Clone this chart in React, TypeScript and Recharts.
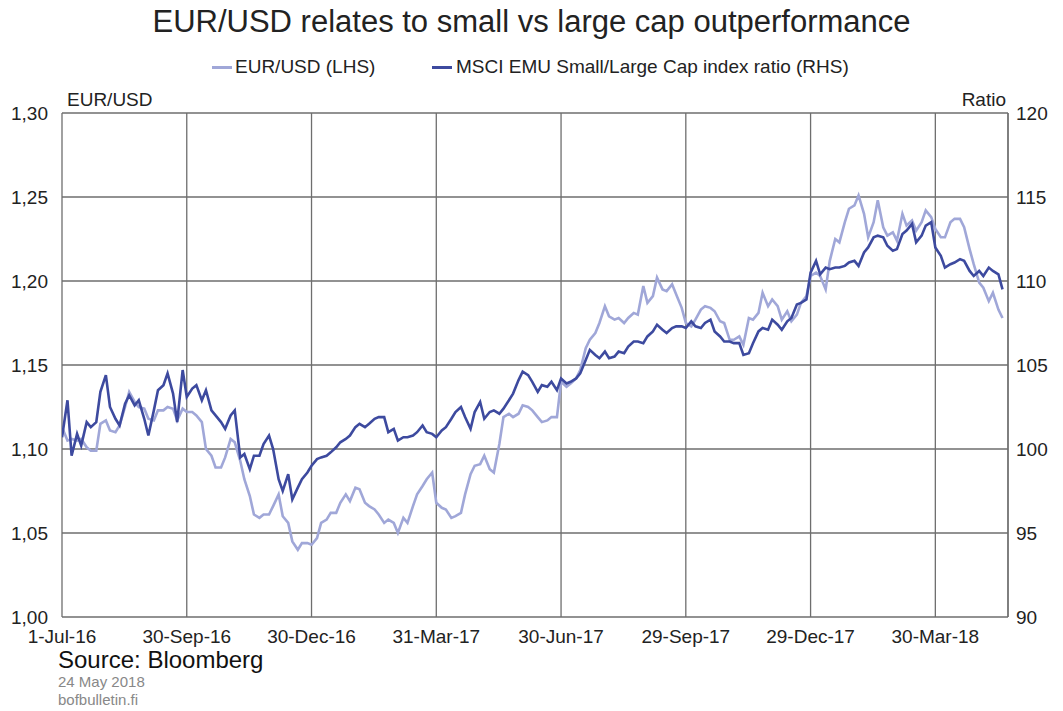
import { LineChart, Line, XAxis, YAxis, CartesianGrid, ReferenceLine } from "recharts";

const DATES = [
  "2016-07-01", "2016-07-05", "2016-07-08", "2016-07-12", "2016-07-15", "2016-07-19", "2016-07-22", "2016-07-26", "2016-07-29",
  "2016-08-02", "2016-08-05", "2016-08-09", "2016-08-12", "2016-08-16", "2016-08-19", "2016-08-23", "2016-08-26", "2016-08-30",
  "2016-09-02", "2016-09-06", "2016-09-09", "2016-09-13", "2016-09-16", "2016-09-20", "2016-09-23", "2016-09-27", "2016-09-30",
  "2016-10-04", "2016-10-07", "2016-10-11", "2016-10-14", "2016-10-18", "2016-10-21", "2016-10-25", "2016-10-28",
  "2016-11-01", "2016-11-04", "2016-11-08", "2016-11-11", "2016-11-15", "2016-11-18", "2016-11-22", "2016-11-25", "2016-11-29",
  "2016-12-02", "2016-12-06", "2016-12-09", "2016-12-13", "2016-12-16", "2016-12-20", "2016-12-23", "2016-12-27", "2016-12-30",
  "2017-01-03", "2017-01-06", "2017-01-10", "2017-01-13", "2017-01-17", "2017-01-20", "2017-01-24", "2017-01-27", "2017-01-31",
  "2017-02-03", "2017-02-07", "2017-02-10", "2017-02-14", "2017-02-17", "2017-02-21", "2017-02-24", "2017-02-28",
  "2017-03-03", "2017-03-07", "2017-03-10", "2017-03-14", "2017-03-17", "2017-03-21", "2017-03-24", "2017-03-28", "2017-03-31",
  "2017-04-04", "2017-04-07", "2017-04-11", "2017-04-14", "2017-04-18", "2017-04-21", "2017-04-25", "2017-04-28",
  "2017-05-02", "2017-05-05", "2017-05-09", "2017-05-12", "2017-05-16", "2017-05-19", "2017-05-23", "2017-05-26", "2017-05-30",
  "2017-06-02", "2017-06-06", "2017-06-09", "2017-06-13", "2017-06-16", "2017-06-20", "2017-06-23", "2017-06-27", "2017-06-30",
  "2017-07-04", "2017-07-07", "2017-07-11", "2017-07-14", "2017-07-18", "2017-07-21", "2017-07-25", "2017-07-28",
  "2017-08-01", "2017-08-04", "2017-08-08", "2017-08-11", "2017-08-15", "2017-08-18", "2017-08-22", "2017-08-25", "2017-08-29",
  "2017-09-01", "2017-09-05", "2017-09-08", "2017-09-12", "2017-09-15", "2017-09-19", "2017-09-22", "2017-09-26", "2017-09-29",
  "2017-10-03", "2017-10-06", "2017-10-10", "2017-10-13", "2017-10-17", "2017-10-20", "2017-10-24", "2017-10-27", "2017-10-31",
  "2017-11-03", "2017-11-07", "2017-11-10", "2017-11-14", "2017-11-17", "2017-11-21", "2017-11-24", "2017-11-28",
  "2017-12-01", "2017-12-05", "2017-12-08", "2017-12-12", "2017-12-15", "2017-12-19", "2017-12-22", "2017-12-26", "2017-12-29",
  "2018-01-02", "2018-01-05", "2018-01-09", "2018-01-12", "2018-01-16", "2018-01-19", "2018-01-23", "2018-01-26", "2018-01-30",
  "2018-02-02", "2018-02-06", "2018-02-09", "2018-02-13", "2018-02-16", "2018-02-20", "2018-02-23", "2018-02-27",
  "2018-03-02", "2018-03-06", "2018-03-09", "2018-03-13", "2018-03-16", "2018-03-20", "2018-03-23", "2018-03-27", "2018-03-30",
  "2018-04-03", "2018-04-06", "2018-04-10", "2018-04-13", "2018-04-17", "2018-04-20", "2018-04-24", "2018-04-27",
  "2018-05-01", "2018-05-04", "2018-05-08", "2018-05-11", "2018-05-15", "2018-05-18",
];

const EURUSD = [
  1.113, 1.105, 1.106, 1.105, 1.106, 1.101, 1.099, 1.099, 1.115, 1.117,
  1.111, 1.110, 1.114, 1.125, 1.134, 1.128, 1.125, 1.124, 1.118, 1.117,
  1.123, 1.123, 1.125, 1.124, 1.117, 1.124, 1.122, 1.122, 1.120, 1.116,
  1.100, 1.096, 1.089, 1.089, 1.095, 1.106, 1.104, 1.093, 1.082, 1.072,
  1.061, 1.059, 1.061, 1.061, 1.066, 1.073, 1.060, 1.056, 1.045, 1.040,
  1.044, 1.044, 1.043, 1.047, 1.056, 1.058, 1.062, 1.062, 1.068, 1.073,
  1.069, 1.077, 1.076, 1.068, 1.066, 1.064, 1.061, 1.056, 1.058, 1.056,
  1.050, 1.059, 1.056, 1.066, 1.073, 1.078, 1.082, 1.086, 1.068, 1.065,
  1.064, 1.059, 1.060, 1.062, 1.073, 1.085, 1.090, 1.091, 1.096, 1.088,
  1.086, 1.103, 1.119, 1.121, 1.119, 1.121, 1.126, 1.125, 1.123, 1.119,
  1.116, 1.117, 1.119, 1.119, 1.140, 1.137, 1.139, 1.142, 1.147, 1.160,
  1.165, 1.169, 1.175, 1.185, 1.179, 1.177, 1.178, 1.175, 1.178, 1.181,
  1.180, 1.197, 1.187, 1.191, 1.202, 1.195, 1.194, 1.198, 1.192, 1.184,
  1.175, 1.173, 1.177, 1.183, 1.185, 1.184, 1.182, 1.176, 1.175, 1.165,
  1.165, 1.167, 1.162, 1.178, 1.177, 1.181, 1.193, 1.185, 1.189, 1.185,
  1.177, 1.182, 1.176, 1.180, 1.187, 1.191, 1.203, 1.205, 1.203, 1.195,
  1.212, 1.225, 1.223, 1.235, 1.243, 1.245, 1.251, 1.240, 1.226, 1.235,
  1.248, 1.232, 1.227, 1.229, 1.224, 1.240, 1.233, 1.236, 1.230, 1.235,
  1.242, 1.238, 1.231, 1.226, 1.226, 1.235, 1.237, 1.237, 1.232, 1.219,
  1.210, 1.199, 1.196, 1.188, 1.193, 1.183, 1.178,
];

const SMALL_LARGE = [
  100.7, 102.9, 99.6, 100.9, 100.2, 101.6, 101.3, 101.6, 103.4, 104.4,
  102.5, 101.8, 101.4, 102.7, 103.2, 102.6, 102.9, 101.8, 100.8, 102.3,
  103.5, 103.8, 104.5, 103.3, 101.6, 104.7, 103.1, 103.6, 103.8, 102.9,
  103.5, 102.3, 102.0, 101.6, 101.2, 102.0, 102.3, 99.5, 99.7, 98.8,
  99.6, 99.6, 100.3, 100.8, 100.0, 98.2, 97.5, 98.5, 97.0, 97.7,
  98.2, 98.6, 99.0, 99.4, 99.5, 99.6, 99.8, 100.1, 100.4, 100.6,
  100.8, 101.3, 101.5, 101.3, 101.5, 101.8, 101.9, 101.9, 101.0, 101.2,
  100.5, 100.7, 100.7, 100.8, 101.0, 101.4, 101.0, 100.9, 100.7, 101.1,
  101.3, 101.8, 102.2, 102.5, 101.9, 101.2, 102.2, 102.8, 101.8, 102.2,
  102.3, 102.1, 102.4, 102.9, 103.3, 104.1, 104.6, 104.4, 104.0, 103.4,
  103.8, 103.7, 104.0, 103.5, 104.2, 103.9, 104.0, 104.2, 104.5, 105.3,
  105.9, 105.6, 105.4, 105.8, 105.4, 105.5, 105.8, 105.7, 106.1, 106.4,
  106.4, 106.3, 106.7, 107.0, 107.4, 107.1, 106.9, 107.2, 107.3, 107.3,
  107.2, 107.6, 107.3, 107.2, 107.5, 107.7, 107.0, 106.7, 106.4, 106.4,
  106.3, 106.3, 105.6, 105.7, 106.3, 107.0, 107.2, 107.1, 107.7, 107.4,
  107.1, 107.6, 107.8, 108.6, 108.7, 108.9, 110.5, 111.2, 110.4, 110.8,
  110.7, 110.8, 110.8, 110.9, 111.1, 111.2, 110.9, 111.7, 112.0, 112.6,
  112.7, 112.6, 112.1, 111.8, 111.9, 112.8, 113.0, 113.4, 112.3, 112.7,
  113.3, 113.5, 112.0, 111.5, 110.8, 111.0, 111.1, 111.3, 111.2, 110.6,
  110.3, 110.6, 110.3, 110.8, 110.6, 110.4, 109.5,
];

const TICK_DATES = ["2016-07-01", "2016-09-30", "2016-12-30", "2017-03-31", "2017-06-30", "2017-09-29", "2017-12-29", "2018-03-30"];
const TICK_LABELS = ["1-Jul-16", "30-Sep-16", "30-Dec-16", "31-Mar-17", "30-Jun-17", "29-Sep-17", "29-Dec-17", "30-Mar-18"];
const LEFT_TICKS = [1.0, 1.05, 1.1, 1.15, 1.2, 1.25, 1.3];
const RIGHT_TICKS = [90, 95, 100, 105, 110, 115, 120];
const AXIS_START = "2016-07-01";
const AXIS_END = "2018-05-22";

const FONT = '"Liberation Sans", Arial, sans-serif';
const LIGHT = "#a0a7d8";
const DARK = "#3d4a9f";
const GRID = "#6e6e6e";

const ts = (d: string) => new Date(d + "T00:00:00Z").getTime();
const tickTs = TICK_DATES.map(ts);
const data = DATES.map((d, i) => ({ t: ts(d), eur: EURUSD[i], ratio: SMALL_LARGE[i] }));

const tickStyle = { fill: "#222", fontSize: 19, fontFamily: FONT };

export default function App() {
  return (
    <div style={{ position: "absolute", left: 0, top: 0, width: 1063, height: 711, background: "#fff", fontFamily: FONT, color: "#222" }}>
      <div style={{ position: "absolute", top: 6, left: 0, width: 1063, textAlign: "center", fontSize: 31, lineHeight: "31px" }}>
        EUR/USD relates to small vs large cap outperformance
      </div>

      <div style={{ position: "absolute", top: 57, left: 0, width: 1063, height: 20, fontSize: 19, lineHeight: "19px" }}>
        <span style={{ position: "absolute", left: 212, top: 9, width: 20, height: 3, background: LIGHT }} />
        <span style={{ position: "absolute", left: 235, top: 0, whiteSpace: "nowrap" }}>EUR/USD (LHS)</span>
        <span style={{ position: "absolute", left: 432, top: 9, width: 20, height: 3, background: DARK }} />
        <span style={{ position: "absolute", left: 456, top: 0, whiteSpace: "nowrap" }}>MSCI EMU Small/Large Cap index ratio (RHS)</span>
      </div>

      <div style={{ position: "absolute", top: 90, left: 67, fontSize: 19, lineHeight: "19px" }}>EUR/USD</div>
      <div style={{ position: "absolute", top: 90, right: 1063 - 1006, fontSize: 19, lineHeight: "19px" }}>Ratio</div>

      <div style={{ position: "absolute", top: 0, left: 0 }}>
        <LineChart width={1063} height={711} data={data} margin={{ top: 113, right: 0, bottom: 0, left: 0 }}>
          <CartesianGrid yAxisId="left" stroke={GRID} strokeWidth={1.3} />
          <XAxis
            dataKey="t"
            type="number"
            domain={[ts(AXIS_START), ts(AXIS_END)]}
            ticks={tickTs}
            tickFormatter={(v: number) => TICK_LABELS[tickTs.indexOf(v)] ?? ""}
            height={94}
            axisLine={false}
            tickLine={false}
            tickSize={0}
            tickMargin={13}
            tick={tickStyle}
            interval={0}
            allowDataOverflow
          />
          <YAxis
            yAxisId="left"
            domain={[1.0, 1.3]}
            ticks={LEFT_TICKS}
            tickFormatter={(v: number) => v.toFixed(2).replace(".", ",")}
            width={62}
            axisLine={false}
            tickLine={false}
            tickSize={0}
            tickMargin={14}
            tick={tickStyle}
            interval={0}
          />
          <YAxis
            yAxisId="right"
            orientation="right"
            domain={[90, 120]}
            ticks={RIGHT_TICKS}
            width={55}
            axisLine={false}
            tickLine={false}
            tickSize={0}
            tickMargin={8}
            tick={{ ...tickStyle, textAnchor: "start" }}
            interval={0}
          />
          <ReferenceLine yAxisId="left" x={ts(AXIS_END)} stroke={GRID} strokeWidth={1.3} />
          <Line yAxisId="left" type="linear" dataKey="eur" stroke={LIGHT} strokeWidth={2.6} dot={false} isAnimationActive={false} />
          <Line yAxisId="right" type="linear" dataKey="ratio" stroke={DARK} strokeWidth={2.6} dot={false} isAnimationActive={false} />
        </LineChart>
      </div>

      <div style={{ position: "absolute", top: 648, left: 58, fontSize: 24, lineHeight: "24px", color: "#111" }}>Source: Bloomberg</div>
      <div style={{ position: "absolute", top: 674, left: 58, fontSize: 15, lineHeight: "15px", color: "#888" }}>24 May 2018</div>
      <div style={{ position: "absolute", top: 692, left: 58, fontSize: 15, lineHeight: "15px", color: "#888" }}>bofbulletin.fi</div>
    </div>
  );
}
